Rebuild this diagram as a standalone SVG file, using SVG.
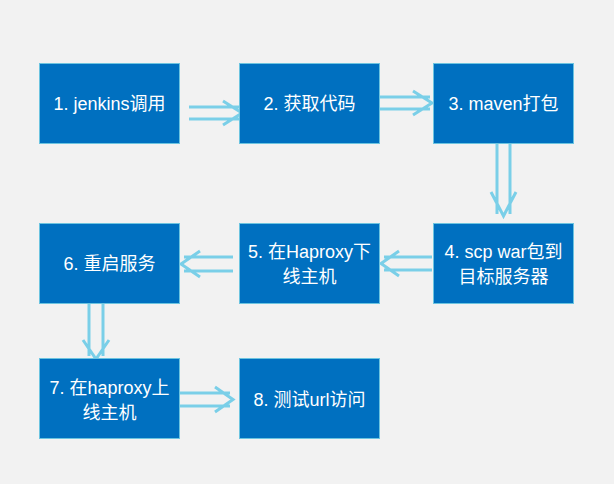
<svg xmlns="http://www.w3.org/2000/svg" width="614" height="484" viewBox="0 0 614 484">
<style>
.box{fill:#0070C0;stroke:#6CC4E0;stroke-width:1}
.t{fill:#FFFFFF;font-family:"Liberation Sans","Noto Sans CJK SC",sans-serif;font-size:18px;text-anchor:middle}
.ar{fill:none;stroke:#7ACFE8;stroke-width:3;stroke-linejoin:miter;stroke-linecap:butt}
</style>
<rect width="614" height="484" fill="#F2F2F2"/>
<g id="connectors">
<path class="ar" d="M189 107H239M189 119H239M223 101L242 113L223 125"/>
<path class="ar" d="M380 97H430M380 109H430M413 91L432 103L413 115"/>
<path class="ar" d="M497 143V214M510 143V214M491 192L503.5 216L516 192"/>
<path class="ar" d="M432 257H384M432 270H384M399 251L381 263.5L399 276"/>
<path class="ar" d="M233 257H184M233 271H184M200 251L181 264L200 277"/>
<path class="ar" d="M89 303V356M103 303V356M83 340L96 359L109 340"/>
<path class="ar" d="M180 393H230M180 406H230M215 387L233 399.5L215 412"/>
</g>
<g id="n1"><rect class="box" x="39.5" y="63.5" width="140" height="80"/><text class="t" x="109.5" y="110">1. jenkins调用</text></g>
<g id="n2"><rect class="box" x="239.5" y="63.5" width="140" height="80"/><text class="t" x="309.5" y="110">2. 获取代码</text></g>
<g id="n3"><rect class="box" x="433.5" y="63.5" width="140" height="80"/><text class="t" x="503.5" y="110">3. maven打包</text></g>
<g id="n4"><rect class="box" x="433.5" y="223.5" width="140" height="80"/><text class="t" x="503.5" y="258">4. scp war包到</text><text class="t" x="503.5" y="283">目标服务器</text></g>
<g id="n5"><rect class="box" x="239.5" y="223.5" width="140" height="80"/><text class="t" x="309.5" y="258">5. 在Haproxy下</text><text class="t" x="309.5" y="283">线主机</text></g>
<g id="n6"><rect class="box" x="39.5" y="223.5" width="140" height="80"/><text class="t" x="109.5" y="270">6. 重启服务</text></g>
<g id="n7"><rect class="box" x="39.5" y="358.5" width="140" height="80"/><text class="t" x="109.5" y="394">7. 在haproxy上</text><text class="t" x="109.5" y="419">线主机</text></g>
<g id="n8"><rect class="box" x="239.5" y="358.5" width="140" height="80"/><text class="t" x="309.5" y="406">8. 测试url访问</text></g>
</svg>
